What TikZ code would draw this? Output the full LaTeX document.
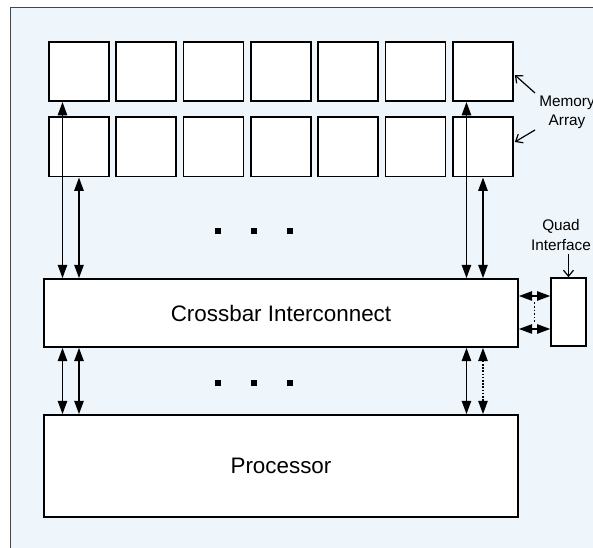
\documentclass[tikz,border=0pt]{standalone}
\usepackage{fontspec}
\setmainfont{Liberation Sans}
\usetikzlibrary{arrows.meta,positioning,calc}
\definecolor{bgblue}{RGB}{238,245,251}
\definecolor{framegray}{RGB}{70,70,70}

\begin{document}
\begin{tikzpicture}[
  x=0.75pt, y=-0.75pt,
  line width=1.25pt,
  box/.style={
    draw,
    fill=white,
    inner sep=0pt,
  },
  cell/.style={box, minimum width=45pt, minimum height=44.5pt},
  dot/.style={fill=black, inner sep=0pt, minimum size=4.2pt},
  lbl/.style={align=center, font=\fontsize{11.5}{14.5}\selectfont, inner sep=0pt},
  arr/.style={
    {Triangle[length=10pt,width=7pt]}-{Triangle[length=10pt,width=7pt]},
  },
  ptr/.style={
    -{Straight Barb[length=4.5pt,width=7.5pt]},
    line width=0.9pt,
  },
]
  \useasboundingbox (0,0) rectangle (593,548);
  % Background frame, runs off the right and bottom edges
  \draw[framegray, fill=bgblue, line width=1.2pt] (10.5,7.5) rectangle (620,580);
  % Memory array: two rows of seven cells
  \foreach \i in {1,...,7} {
    \node[cell] (m1-\i) at ({79+67.33*(\i-1)},71.5) {};
    \node[cell] (m2-\i) at ({79+67.33*(\i-1)},147) {};
  }
  % Crossbar, processor and quad interface
  \node[box, minimum width=355.5pt, minimum height=51pt,
    font=\fontsize{16.8}{20}\selectfont] (cb) at (281,313) {Crossbar Interconnect};
  \node[box, minimum width=355.5pt, minimum height=76.5pt,
    font=\fontsize{16.8}{20}\selectfont] (proc) at (281,466) {Processor};
  \node[box, minimum width=26pt, minimum height=51pt] (quad) at (568.5,312) {};
  % Ellipsis dots
  \foreach \k/\x in {1/218,2/254,3/290} {
    \node[dot] (du\k) at (\x,231) {};
    \node[dot] (dl\k) at (\x,383) {};
  }
  % Memory rows to crossbar
  \foreach \c in {1,7} {
    \draw[arr] ($(m1-\c.south)+(-16.5,0)$) -- ($(m1-\c.south |- cb.north)+(-16.5,0)$);
    \draw[arr] (m2-\c.south) -- (m2-\c.south |- cb.north);
  }
  % Crossbar to processor
  \draw[arr] ($(cb.south -| m2-1.south)+(-16.5,0)$) -- ($(proc.north -| m2-1.south)+(-16.5,0)$);
  \draw[arr] (cb.south -| m2-1.south) -- (proc.north -| m2-1.south);
  \draw[arr] ($(cb.south -| m2-7.south)+(-16.5,0)$) -- ($(proc.north -| m2-7.south)+(-16.5,0)$);
  \draw[arr, dash pattern=on 1.2pt off 1.2pt] (cb.south -| m2-7.south) -- (proc.north -| m2-7.south);
  % Crossbar to quad interface
  \draw[arr] ([yshift=12.75pt]cb.east) -- ([yshift=12.75pt]cb.east -| quad.west);
  \draw[arr] ([yshift=-12pt]cb.east) -- ([yshift=-12pt]cb.east -| quad.west);
  \draw[dash pattern=on 1.2pt off 1.5pt] ($(cb.east)!0.5!(quad.west)+(0,-10)$) -- ($(cb.east)!0.5!(quad.west)+(0,10)$);
  % Labels
  \node[lbl] (mem) at (567,112) {Memory\\Array};
  \draw[ptr] ([shift={(-32,-19)}]mem.center) -- ([shift={(1,3.5)}]m1-7.east);
  \draw[ptr] ([shift={(-32,18)}]mem.center) -- ([shift={(1,-5)}]m2-7.east);
  \node[lbl] (ql) at (561,235) {Quad\\Interface};
  \draw[ptr] (quad.north |- ql.south) ++(0,3) -- (quad.north);
\end{tikzpicture}
\end{document}
